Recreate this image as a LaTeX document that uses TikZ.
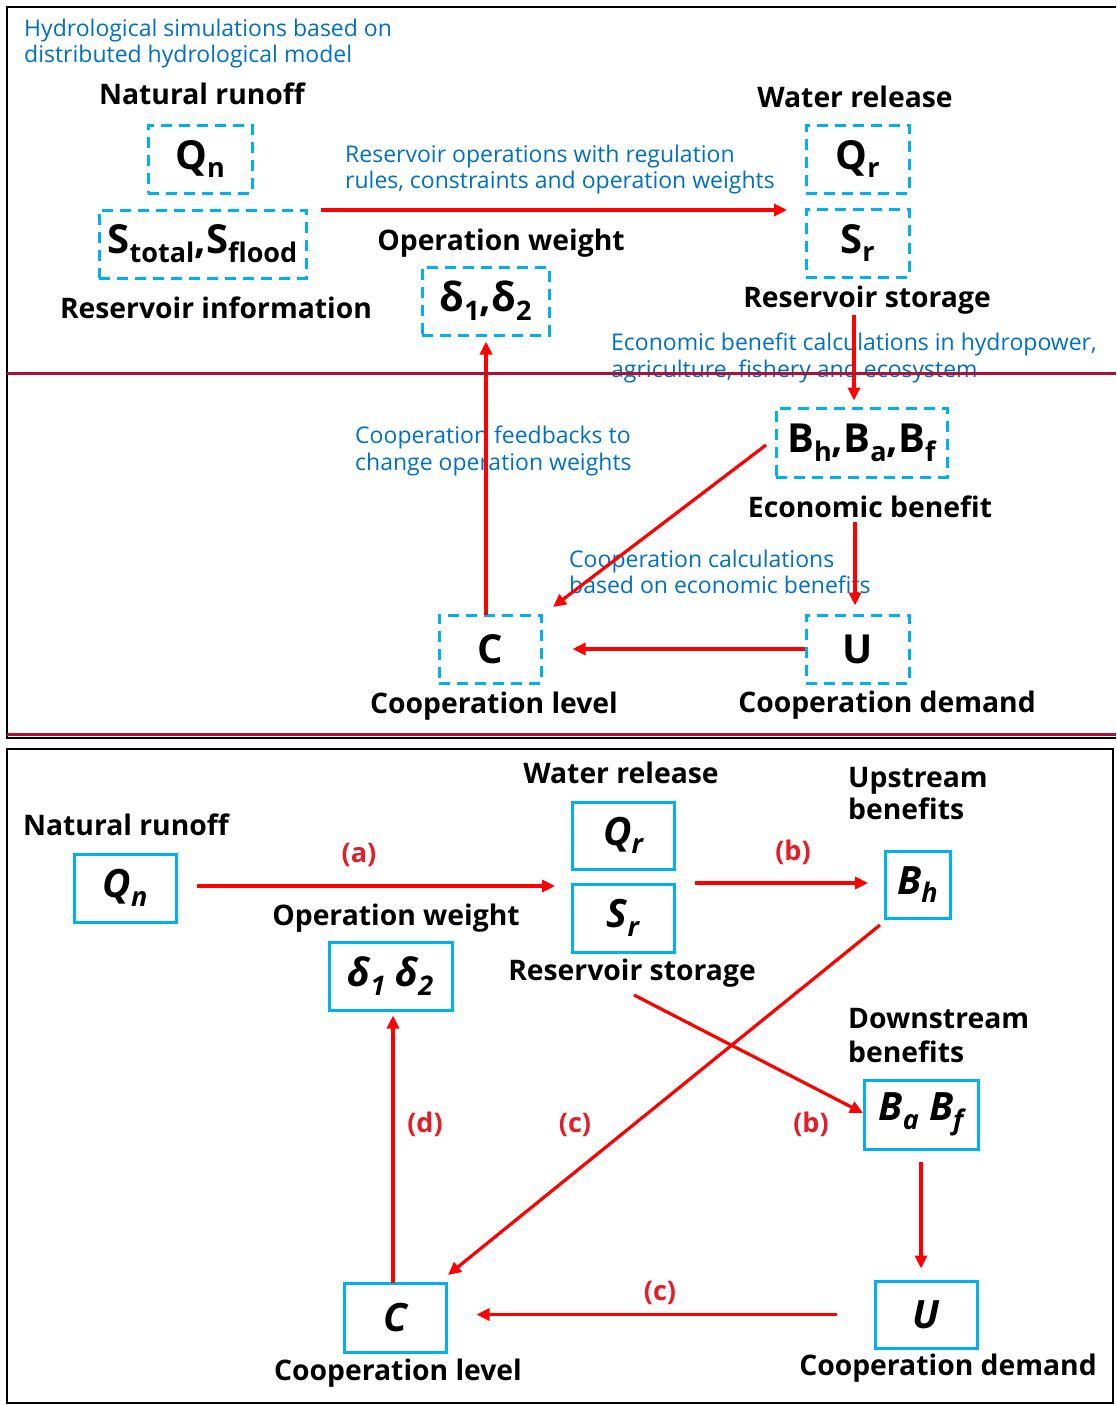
\documentclass[tikz,border=0pt]{standalone}
\usepackage{fontspec}
\setmainfont{Open Sans}
\usetikzlibrary{arrows.meta}
\definecolor{cyanc}{RGB}{0,176,240}
\definecolor{bluet}{RGB}{0,112,192}
\definecolor{redc}{RGB}{255,0,0}
\definecolor{darkr}{RGB}{176,16,56}
\definecolor{labr}{RGB}{228,30,38}
\newcommand\lblfont{\bfseries\fontsize{28.3}{33}\selectfont}
\newcommand\bluefont{\fontsize{23}{27}\selectfont}
\newcommand\mfont{\bfseries\fontsize{40}{44}\selectfont}
\newcommand\mifont{\bfseries\itshape\fontsize{39}{44}\selectfont}
\newcommand\sbx[1]{\raisebox{-0.22em}{\fontsize{27}{27}\selectfont #1}}
\begin{document}
\begin{tikzpicture}[x=1pt,y=-1pt,
  dbox/.style={draw=cyanc, line width=3pt, dash pattern=on 11pt off 7pt, inner sep=0pt},
  sbox/.style={draw=cyanc, line width=3pt, inner sep=0pt},
  arr/.style={draw=redc, line width=3.2pt, -{Triangle[length=13pt,width=12pt]}},
  lbl/.style={font=\lblfont, anchor=base, inner sep=0pt},
  blu/.style={font=\bluefont, text=bluet, anchor=base west, inner sep=0pt},
  rl/.style={font=\bfseries\fontsize{27}{30}\selectfont, text=labr, anchor=base, inner sep=0pt},
  frame/.style={draw=black, line width=2pt},
  sep/.style={draw=darkr, line width=3pt}]
\useasboundingbox (0,0) rectangle (1116,1405);
\fill[white] (0,0) rectangle (1116,1405);

% ---------------- top panel ----------------
\draw[frame] (1116,7) -- (7,7) -- (7,738) -- (1116,738);

\node[blu] (h1) at (24,37) {Hydrological simulations based on};
\node[blu] (h2) at (24,63) {distributed hydrological model};
\node[blu] (r1) at (345,162) {Reservoir operations with regulation};
\node[blu] (r2) at (345,188) {rules, constraints and operation weights};
\node[blu] (e1) at (611,350) {Economic benefit calculations in hydropower,};
\node[blu] (e2) at (611,377) {agriculture, fishery and ecosystem};
\node[blu] (f1) at (355,443) {Cooperation feedbacks to};
\node[blu] (f2) at (355,470) {change operation weights};
\node[blu] (c1) at (569,567) {Cooperation calculations};
\node[blu] (c2) at (569,593) {based on economic benefits};

\node[lbl] (tNat) at (202,104) {Natural runoff};
\node[lbl] (tRI) at (216,318) {Reservoir information};
\node[lbl] (tOW) at (501,250) {Operation weight};
\node[lbl] (tWR) at (855,107) {Water release};
\node[lbl] (tRS) at (867,307) {Reservoir storage};
\node[lbl] (tEB) at (870,517) {Economic benefit};
\node[lbl] (tCD) at (887,712) {Cooperation demand};
\node[lbl] (tCL) at (494,713) {Cooperation level};

\node[dbox, minimum width=104, minimum height=68] (tQn) at (200,159) {\mfont Q\sbx{n}};
\node[dbox, minimum width=207, minimum height=68] (tS) at (202.5,244) {\mfont S\sbx{total},S\sbx{flood}};
\node[dbox, minimum width=103, minimum height=68] (tQr) at (857.5,159) {\mfont Q\sbx{r}};
\node[dbox, minimum width=103, minimum height=68] (tSr) at (857.5,243) {\mfont S\sbx{r}};
\node[dbox, minimum width=127, minimum height=68] (tD) at (485.5,301) {\mfont δ\sbx{1},δ\sbx{2}};
\node[dbox, minimum width=171, minimum height=69] (tB) at (861.5,442.5) {\mfont B\sbx{h},B\sbx{a},B\sbx{f}};
\node[dbox, minimum width=103, minimum height=68] (tU) at (857.5,649) {\mfont U};
\node[dbox, minimum width=102, minimum height=68] (tC) at (490,649) {\mfont C};

\coordinate (opS) at (321,210);
\coordinate (opE) at (787,210);
\draw[arr] (opS) -- (opE);
\coordinate (ebS) at (854,315);
\draw[arr, shorten >=6pt] (ebS) -- (ebS |- tB.north);
\coordinate (bu) at (855,522);
\draw[arr, shorten >=8pt] (bu) -- (bu |- tU.north);
\coordinate (bcS) at (766,445);
\coordinate (bcE) at (553,607);
\draw[arr] (bcS) -- (bcE);
\coordinate (cd) at (486,615);
\draw[arr, shorten >=5pt] (cd) -- (cd |- tD.south);
\draw[arr, shorten >=30pt] (tU.west) -- (tC.east);

\draw[sep] (7,373) -- (1116,373);
\draw[sep] (7,734) -- (1116,734);

% ---------------- bottom panel ----------------
\draw[frame] (7,749) rectangle (1113,1403);

\node[lbl] (bNat) at (126,835) {Natural runoff};
\node[lbl] (bWR) at (621,783) {Water release};
\node[lbl] (bOW) at (396,925) {Operation weight};
\node[lbl] (bRS) at (632,980) {Reservoir storage};
\node[lbl, anchor=base west] (bUp1) at (848,787) {Upstream};
\node[lbl, anchor=base west] (bUp2) at (848,819) {benefits};
\node[lbl, anchor=base west] (bDn1) at (848,1028) {Downstream};
\node[lbl, anchor=base west] (bDn2) at (848,1062) {benefits};
\node[lbl] (bCD) at (948,1375) {Cooperation demand};
\node[lbl] (bCL) at (398,1380) {Cooperation level};

\node[sbox, minimum width=102, minimum height=68] (bQn) at (125,888) {\mifont Q\sbx{n}};
\node[sbox, minimum width=102, minimum height=67] (bQr) at (623,835.5) {\mifont Q\sbx{r}};
\node[sbox, minimum width=102, minimum height=68] (bSr) at (623,918) {\mifont S\sbx{r}};
\node[sbox, minimum width=123, minimum height=68] (bD) at (390.5,976) {\mifont δ\sbx{1} δ\sbx{2}};
\node[sbox, minimum width=65, minimum height=67] (bBh) at (917.5,884.5) {\mifont B\sbx{h}};
\node[sbox, minimum width=114, minimum height=69] (bBaf) at (921,1114.5) {\mifont B\sbx{a} B\sbx{f}};
\node[sbox, minimum width=102, minimum height=67] (bU) at (926,1314.5) {\mifont U};
\node[sbox, minimum width=102, minimum height=69] (bC) at (395,1317.5) {\mifont C};

\coordinate (aS) at (197,886);
\coordinate (aE) at (555,886);
\draw[arr] (aS) -- (aE);
\node[rl] (la) at (359,862) {(a)};
\coordinate (bS) at (695,883);
\coordinate (bE) at (868,883);
\draw[arr] (bS) -- (bE);
\node[rl] (lb1) at (793,860) {(b)};
\coordinate (sbS) at (634,995);
\coordinate (sbE) at (863,1113);
\draw[arr] (sbS) -- (sbE);
\node[rl] (lb2) at (811,1132) {(b)};
\coordinate (hcS) at (880,925);
\coordinate (hcE) at (448,1275);
\draw[arr] (hcS) -- (hcE);
\node[rl] (lc1) at (575,1132) {(c)};
\coordinate (dS) at (393,1283);
\draw[arr, shorten >=4pt] (dS) -- (dS |- bD.south);
\node[rl] (ld) at (425,1132) {(d)};
\coordinate (fuS) at (921,1162);
\draw[arr, shorten >=11pt] (fuS) -- (fuS |- bU.north);
\draw[arr, shorten <=37pt, shorten >=29pt] (bU.west) -- (bU.west -| bC.east);
\node[rl] (lc2) at (660,1300) {(c)};
\end{tikzpicture}
\end{document}
